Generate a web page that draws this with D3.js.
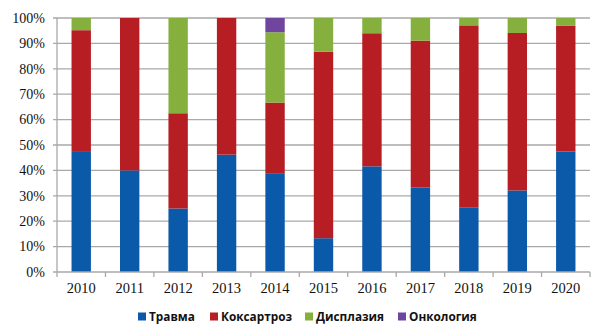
<!DOCTYPE html>
<html>
<head>
<meta charset="utf-8">
<script src="https://cdn.jsdelivr.net/npm/d3@7"></script>
<style>
  html, body { margin: 0; padding: 0; background: #fff; }
  svg { display: block; }
</style>
</head>
<body>
<svg id="chart" width="609" height="335"></svg>
<script>
// Years on the x axis
const years = ["2010", "2011", "2012", "2013", "2014", "2015", "2016", "2017", "2018", "2019", "2020"];

// Share of each diagnosis per year, in percent
const travma      = [47.6, 40.0, 25.0, 46.2, 38.9, 13.3, 41.6, 33.3, 25.3, 32.1, 47.4];
const koksartroz  = [47.6, 60.0, 37.5, 53.8, 27.8, 73.4, 52.4, 57.8, 71.8, 62.0, 49.5];
const displaziya  = [ 4.8,  0.0, 37.5,  0.0, 27.7, 13.3,  6.0,  8.9,  2.9,  5.9,  3.1];
const onkologiya  = [ 0.0,  0.0,  0.0,  0.0,  5.6,  0.0,  0.0,  0.0,  0.0,  0.0,  0.0];

const seriesNames = ["Травма", "Коксартроз", "Дисплазия", "Онкология"];
const seriesColors = ["#0b5aaa", "#b61e24", "#86b03e", "#7045a0"];

// Y tick labels
const yTicks = [0, 10, 20, 30, 40, 50, 60, 70, 80, 90, 100];
const yTickLabels = ["0%", "10%", "20%", "30%", "40%", "50%", "60%", "70%", "80%", "90%", "100%"];

const seriesValues = [travma, koksartroz, displaziya, onkologiya];
const rows = years.map((yr, i) => {
  const r = { year: yr };
  seriesNames.forEach((n, k) => { r[n] = seriesValues[k][i]; });
  return r;
});

const svg = d3.select("#chart");
const plotLeft = 57, plotRight = 590, plotTop = 18, plotBottom = 272;

const x = d3.scaleBand().domain(years).range([plotLeft, plotRight]).paddingInner(0.6).paddingOuter(0.3);
const y = d3.scaleLinear().domain([0, 100]).range([plotBottom, plotTop]);

const gridColor = "#a9a9a9";

// Horizontal gridlines (with a short outward tick on the left)
svg.append("g").selectAll("line").data(yTicks.filter(t => t > 0)).join("line")
  .attr("x1", plotLeft - 4).attr("x2", plotRight)
  .attr("y1", d => y(d)).attr("y2", d => y(d))
  .attr("stroke", gridColor).attr("stroke-width", 1.3);

// Stacked bars
const stacked = d3.stack().keys(seriesNames)(rows);
svg.append("g").selectAll("g").data(stacked).join("g")
  .attr("fill", (d, i) => seriesColors[i])
  .selectAll("rect").data(d => d).join("rect")
  .attr("x", d => x(d.data.year))
  .attr("width", x.bandwidth())
  .attr("y", d => y(d[1]))
  .attr("height", d => Math.max(0, y(d[0]) - y(d[1])));

// Y axis line
svg.append("line")
  .attr("x1", plotLeft).attr("x2", plotLeft).attr("y1", plotTop).attr("y2", plotBottom)
  .attr("stroke", gridColor).attr("stroke-width", 1.3);

// X axis line with ticks at category boundaries
svg.append("line")
  .attr("x1", plotLeft - 4).attr("x2", plotRight).attr("y1", plotBottom).attr("y2", plotBottom)
  .attr("stroke", gridColor).attr("stroke-width", 1.3);
const step = x.step();
const boundaries = d3.range(years.length + 1).map(i => plotLeft + i * step);
svg.append("g").selectAll("line").data(boundaries).join("line")
  .attr("x1", d => d).attr("x2", d => d)
  .attr("y1", plotBottom).attr("y2", plotBottom + 5)
  .attr("stroke", gridColor).attr("stroke-width", 1.3);

// Y tick labels
svg.append("g").selectAll("text").data(yTicks).join("text")
  .attr("x", plotLeft - 12)
  .attr("y", d => y(d))
  .attr("dy", "0.34em")
  .attr("text-anchor", "end")
  .attr("font-family", "'Liberation Serif', 'Times New Roman', serif")
  .attr("font-size", 14)
  .attr("fill", "#111")
  .text((d, i) => yTickLabels[i]);

// X tick labels
svg.append("g").selectAll("text").data(years).join("text")
  .attr("x", d => x(d) + x.bandwidth() / 2)
  .attr("y", 293)
  .attr("text-anchor", "middle")
  .attr("font-family", "'Liberation Serif', 'Times New Roman', serif")
  .attr("font-size", 14.5)
  .attr("fill", "#111")
  .text(d => d);

// Legend
const legendX = [138, 210, 305, 398];
const legend = svg.append("g").selectAll("g").data(seriesNames).join("g")
  .attr("transform", (d, i) => `translate(${legendX[i]},0)`);
legend.append("rect")
  .attr("x", 0).attr("y", 312.5).attr("width", 8).attr("height", 8)
  .attr("fill", (d, i) => seriesColors[i]);
legend.append("text")
  .attr("x", 11).attr("y", 321)
  .attr("font-family", "'Open Sans', 'DejaVu Sans', sans-serif")
  .attr("font-weight", "bold")
  .attr("font-size", 11.8)
  .attr("fill", "#111")
  .text(d => d);
</script>
</body>
</html>
